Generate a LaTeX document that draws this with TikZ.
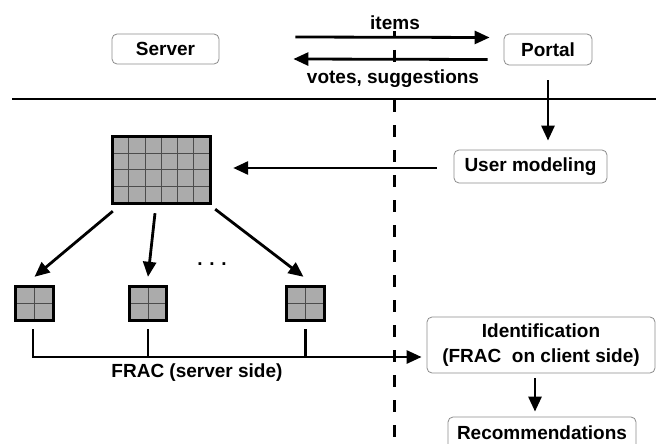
\documentclass[tikz,border=0pt]{standalone}
\usepackage{fontspec}
\setmainfont{Liberation Sans}
\usepackage{tikz}
\usetikzlibrary{shapes,arrows,arrows.meta}

\begin{document}
\begin{tikzpicture}[x=1pt,y=-1pt]
	\tikzstyle{every node}=[font=\fontsize{19}{22}\selectfont\bfseries]
	\tikzstyle{tag}=[draw=black!45, line width=0.8pt, rounded corners=5pt, fill=white, inner sep=0pt, align=center]
	\tikzstyle{grid cell}=[fill=black!33, inner sep=0pt]
	\tikzstyle{grid line}=[draw=black!70, line width=1.0pt]
	\tikzstyle{grid frame}=[line width=2.8pt]
	\tikzstyle{conn}=[line width=2.8pt, -{Triangle[length=15pt,width=13pt]}]
	\tikzstyle{wire}=[line width=2.8pt]
	\tikzstyle{note}=[fill=white, inner sep=1pt]

	%%Bounding box
	\useasboundingbox (0.0000,0.0000) rectangle (656.0000,444.0000);

	%%Separators
	\draw [line width=3.0pt, dash pattern=on 12pt off 13pt] (394.0000,25.0000) -- (394.0000,444.0000);
	\draw [line width=2.0pt] (12.0000,99.0000) -- (656.0000,99.0000);

	%%Boxes
	\node [tag, minimum width=107, minimum height=30] (srv) at (165.5000,49.0000) {Server};
	\node [tag, minimum width=88, minimum height=31] (prt) at (548.0000,49.5000) {Portal};
	\node [tag, minimum width=153, minimum height=33] (um) at (530.5000,166.5000) {User modeling};
	\node [tag, minimum width=228, minimum height=56, font=\fontsize{19}{25}\selectfont\bfseries] (idf) at (541.0000,345.0000) {Identification\\(FRAC\ \ on client side)};
	\node [tag, minimum width=188, minimum height=32] (rec) at (542.0000,433.0000) {Recommendations};

	%%Big matrix
	\node [grid cell, minimum width=97, minimum height=66] (mat) at (161.5000,170.0000) {};
	\foreach \i in {1,...,5}
		\draw [grid line] ([xshift={\i*97/6}]mat.north west) -- ([xshift={\i*97/6}]mat.south west);
	\foreach \j in {1,...,3}
		\draw [grid line] ([yshift={-\j*66/4}]mat.north west) -- ([yshift={-\j*66/4}]mat.north east);
	\draw [grid frame] (mat.north west) rectangle (mat.south east);

	%%Small matrices
	\foreach \name/\xpos in {s1/34.5, s2/148.0, s3/305.5} {
		\node [grid cell, minimum width=37, minimum height=33] (\name) at (\xpos,303.5000) {};
		\draw [grid line] (\name.north) -- (\name.south);
		\draw [grid line] (\name.west) -- (\name.east);
		\draw [grid frame] (\name.north west) rectangle (\name.south east);
	}
	\node (dots) at (212.0000,264.0000) {.\hspace{6.7pt}.\hspace{6.7pt}.};

	%%Arrows
	\draw [conn] ([yshift=12]srv.east) ++(76,0) -- ([xshift=-14,yshift=12]prt.west);
	\draw [conn] ([xshift=-16,yshift=-10]prt.west) -- ([xshift=74,yshift=-10]srv.east);
	\node [note] (it) at (395.0000,23.0000) {items};
	\node [note] (vs) at (393.0000,79.0000) {votes, suggestions};

	\draw [conn, shorten <=15pt, shorten >=9pt] (prt.south) -- (prt.south |- um.north);
	\draw [conn] ([xshift=-17,yshift=-1.5]um.west) -- ([xshift=23,yshift=2]mat.east);

	\draw [conn] ([yshift=-8]mat.south west) -- ([yshift=10]s1.north);
	\draw [conn] ([xshift=-6.5,yshift=-10]mat.south) -- ([yshift=10]s2.north);
	\draw [conn] ([xshift=5,yshift=-6]mat.south east) -- ([xshift=-2,yshift=10]s3.north);

	\draw [conn] ([xshift=-1.5,yshift=-9]s1.south) |- ([xshift=-5,yshift=-12]idf.west);
	\draw [wire] ([yshift=-9]s2.south) -- ++(0,28);
	\draw [wire] ([yshift=-9]s3.south) -- ++(0,28);
	\node (frac) at (197.0000,373.0000) {FRAC (server side)};

	\draw [conn] ([xshift=-6,yshift=-5]idf.south) -- ([xshift=-7,yshift=5]rec.north);

\end{tikzpicture}
\end{document}
